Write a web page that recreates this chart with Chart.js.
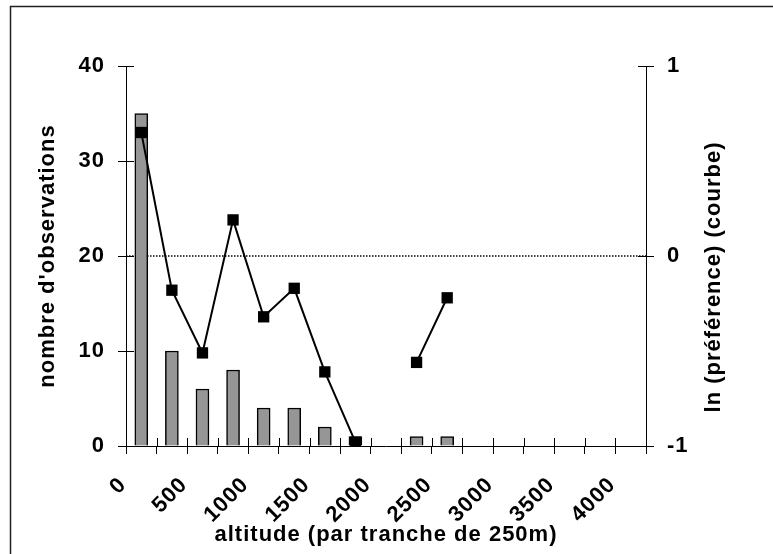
<!DOCTYPE html>
<html>
<head>
<meta charset="utf-8">
<script src="https://cdn.jsdelivr.net/npm/chart.js@4.4.1/dist/chart.umd.min.js"></script>
<style>
  html, body { margin: 0; padding: 0; background: #fff; }
  #wrap { width: 773px; height: 554px; }
</style>
</head>
<body>
<div id="wrap"><canvas id="chart" width="773" height="554"></canvas></div>
<script>
// altitude bins of 250 m, centre of each bin
const binCentres = [125, 375, 625, 875, 1125, 1375, 1625, 1875, 2125, 2375, 2625, 2875, 3125, 3375, 3625, 3875, 4125];
// number of observations per bin (bars, left axis)
const observations = [35, 10, 6, 8, 4, 4, 2, 1, 0, 1, 1, 0, 0, 0, 0, 0, 0];
// ln(preference) per bin (curve, right axis), null = no value
const lnPreference = [0.65, -0.18, -0.51, 0.19, -0.32, -0.17, -0.61, -0.98, null, -0.56, -0.22, null, null, null, null, null, null];
const leftTicks = [0, 10, 20, 30, 40];
const rightTicks = [-1, 0, 1];
const xLabelStep = 500;

const FONT = "'Liberation Sans', Arial, sans-serif";
const FSIZE = 22;

const barData = [];
binCentres.forEach(function (x, i) {
  if (observations[i] > 0) barData.push({ x: x, y: observations[i] });
});
const lineData = binCentres.map(function (x, i) {
  return { x: x, y: lnPreference[i] };
});

// white page and the open frame round the chart
const framePlugin = {
  id: "frame",
  beforeDraw: function (chart) {
    const ctx = chart.ctx;
    ctx.save();
    ctx.fillStyle = "#fff";
    ctx.fillRect(0, 0, chart.width, chart.height);
    ctx.strokeStyle = "#222";
    ctx.lineWidth = 1.5;
    ctx.beginPath();
    ctx.moveTo(10.5, chart.height);
    ctx.lineTo(10.5, 6.5);
    ctx.lineTo(chart.width, 6.5);
    ctx.stroke();
    ctx.restore();
    // the original text is a bit wider than Liberation Sans
    ctx.letterSpacing = "1px";
  }
};

// tick marks cross the axis: draw the inner half
const crossTicks = {
  id: "crossTicks",
  afterDraw: function (chart) {
    const ctx = chart.ctx;
    const a = chart.chartArea;
    ctx.save();
    ctx.strokeStyle = "#000";
    ctx.lineWidth = 1;
    ctx.beginPath();
    chart.scales.x.ticks.forEach(function (t) {
      const px = Math.round(chart.scales.x.getPixelForValue(t.value)) + 0.5;
      ctx.moveTo(px, a.bottom);
      ctx.lineTo(px, a.bottom - 8);
    });
    chart.scales.y.ticks.forEach(function (t) {
      const py = Math.round(chart.scales.y.getPixelForValue(t.value)) + 0.5;
      ctx.moveTo(a.left, py);
      ctx.lineTo(a.left + 8, py);
    });
    chart.scales.y1.ticks.forEach(function (t) {
      const py = Math.round(chart.scales.y1.getPixelForValue(t.value)) + 0.5;
      ctx.moveTo(a.right, py);
      ctx.lineTo(a.right - 8, py);
    });
    ctx.stroke();

    // right axis title reads bottom to top
    ctx.fillStyle = "#000";
    ctx.font = "bold " + FSIZE + "px " + FONT;
    ctx.textAlign = "center";
    ctx.textBaseline = "middle";
    ctx.translate(714, 277);
    ctx.rotate(-Math.PI / 2);
    ctx.fillText("ln (préférence) (courbe)", 0, 0);
    ctx.restore();
  }
};

const tickFont = { family: FONT, size: FSIZE, weight: "bold" };

new Chart(document.getElementById("chart"), {
  type: "bar",
  data: {
    datasets: [
      {
        type: "line",
        data: lineData,
        yAxisID: "y1",
        borderColor: "#000",
        borderWidth: 2,
        pointStyle: "rect",
        pointRadius: 8,
        pointBackgroundColor: "#000",
        pointBorderWidth: 0,
        spanGaps: false,
        tension: 0,
        order: 1
      },
      {
        type: "bar",
        data: barData,
        yAxisID: "y",
        backgroundColor: "#969696",
        borderColor: "#000",
        borderWidth: 1.5,
        barThickness: 13,
        order: 2
      },
      {
        type: "line",
        data: [{ x: 0, y: 0 }, { x: 4250, y: 0 }],
        yAxisID: "y1",
        borderColor: "#000",
        borderWidth: 1.3,
        borderDash: [1.5, 1.5],
        pointRadius: 0,
        order: 3
      }
    ]
  },
  options: {
    responsive: false,
    animation: false,
    events: [],
    layout: { padding: { top: 66, left: 0, right: 0, bottom: 0 } },
    plugins: { legend: { display: false }, tooltip: { enabled: false } },
    scales: {
      x: {
        type: "linear",
        position: "bottom",
        offset: false,
        min: 0,
        max: 4250,
        afterFit: function (s) { s.height = 108; },
        ticks: {
          stepSize: 250,
          autoSkip: false,
          maxRotation: 45,
          minRotation: 45,
          padding: 18,
          labelOffset: -3,
          color: "#000",
          font: tickFont,
          callback: function (v) { return v % xLabelStep === 0 ? String(v) : ""; }
        },
        grid: { offset: false, drawOnChartArea: false, tickLength: 8, color: "#000" },
        border: { color: "#000", width: 1 },
        title: {
          display: true,
          text: "altitude (par tranche de 250m)",
          color: "#000",
          font: tickFont,
          padding: { top: 0, bottom: 6 }
        }
      },
      y: {
        position: "left",
        min: 0,
        max: 40,
        afterFit: function (s) { s.width = 126; },
        afterBuildTicks: function (s) { s.ticks = leftTicks.map(function (v) { return { value: v }; }); },
        ticks: { padding: 13, color: "#000", font: tickFont },
        grid: { drawOnChartArea: false, tickLength: 8, color: "#000" },
        border: { color: "#000", width: 1 },
        title: {
          display: true,
          text: "nombre d'observations",
          color: "#000",
          font: tickFont,
          padding: { top: 35, bottom: 0 }
        }
      },
      y1: {
        position: "right",
        min: -1,
        max: 1,
        afterFit: function (s) { s.width = 127; },
        afterBuildTicks: function (s) { s.ticks = rightTicks.map(function (v) { return { value: v }; }); },
        ticks: { padding: 13, color: "#000", font: tickFont },
        grid: { drawOnChartArea: false, tickLength: 8, color: "#000" },
        border: { color: "#000", width: 1 }
      }
    }
  },
  plugins: [framePlugin, crossTicks]
});
</script>
</body>
</html>
